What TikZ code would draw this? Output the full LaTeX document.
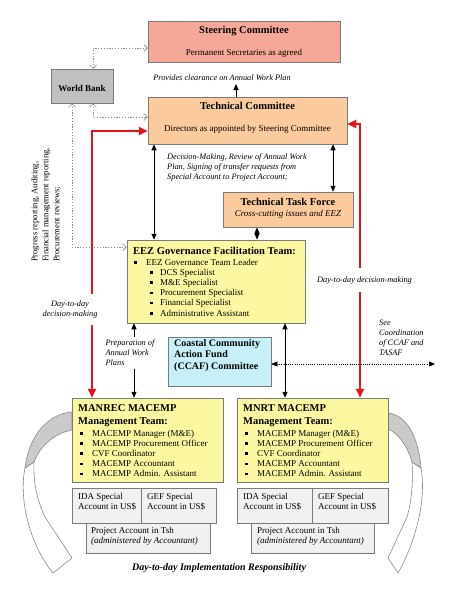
\documentclass[tikz,border=0pt]{standalone}
\usepackage{fontspec}
\setmainfont{Liberation Serif}
\usetikzlibrary{arrows.meta,calc}
\definecolor{salmon}{HTML}{F6A898}
\definecolor{peach}{HTML}{FBCB9E}
\definecolor{yel}{HTML}{FCF8A2}
\definecolor{cyanl}{HTML}{C6EFF7}
\definecolor{wbg}{HTML}{C0C0C0}
\definecolor{accg}{HTML}{F1F1F1}
\definecolor{boxline}{HTML}{7A7A7A}
\definecolor{redc}{HTML}{E8141A}
\definecolor{curvl}{HTML}{8A8A8A}
\definecolor{curvf}{HTML}{CACACA}
\definecolor{dotc}{HTML}{8C8C8C}
\newcommand{\sqb}{\raisebox{1.5pt}{\rule{2.6pt}{2.6pt}}}
\begin{document}
\begin{tikzpicture}[x=1pt,y=-1pt,
  box/.style={draw=boxline, line width=0.5pt, inner sep=0pt},
  tb/.style={inner sep=0pt, anchor=base},
  tl/.style={inner sep=0pt, anchor=base west},
  ttl/.style={font=\fontsize{10.5}{12}\selectfont\bfseries},
  nrm/.style={font=\fontsize{9}{10.2}\selectfont},
  itl/.style={font=\fontsize{8.3}{10}\selectfont\itshape},
  blk/.style={line width=0.9pt, {Triangle[length=6pt,width=5pt]}-{Triangle[length=6pt,width=5pt]}},
  blk1/.style={line width=0.9pt, -{Triangle[length=6pt,width=5pt]}},
  redl/.style={draw=redc, line width=2pt, {Triangle[length=9pt,width=8pt]}-{Triangle[length=9pt,width=8pt]}},
  dotg/.style={draw=dotc, line width=0.7pt, dash pattern=on 1.2pt off 1.6pt, {Straight Barb[length=3.5pt,width=7pt]}-{Straight Barb[length=3.5pt,width=7pt]}},
  dotk/.style={line width=0.7pt, dash pattern=on 1pt off 1.2pt, {Triangle[length=6pt,width=5pt]}-{Triangle[length=6pt,width=5pt]}},
  curv/.style={draw=curvl, line width=0.6pt}
]
\useasboundingbox (0,0) rectangle (467,605);

% curved arrows (behind)
\path[curv, fill=white] (25,468) .. controls (18,502) and (32,548) .. (53,573) -- (72,558) -- (45,517) .. controls (37,500) and (33,482) .. (34,462) -- cycle;
\path[curv, fill=curvf] (72,412) .. controls (45,414) and (28,440) .. (25,468) -- (34,462) .. controls (41,444) and (56,433) .. (72,430) -- cycle;
\path[curv, fill=white] (421,468) .. controls (427,502) and (414,545) .. (398,573) -- (388,558) -- (407,517) .. controls (412,500) and (413,482) .. (412,462) -- cycle;
\path[curv, fill=curvf] (388,413) .. controls (408,415) and (419,440) .. (421,468) -- (412,462) .. controls (407,445) and (398,433) .. (388,429) -- cycle;

% boxes
\node[box, fill=salmon, minimum width=192pt, minimum height=41pt] (sc) at (244,41.5) {};
\node[box, fill=wbg, minimum width=62pt, minimum height=34pt] (wb) at (82,86) {};
\node[box, fill=peach, minimum width=199pt, minimum height=47pt] (tc) at (247.5,120.5) {};
\node[box, fill=peach, minimum width=130pt, minimum height=35pt] (ttf) at (288,209.5) {};
\node[box, fill=yel, minimum width=178pt, minimum height=83pt] (eez) at (216,281.5) {};
\node[box, fill=cyanl, minimum width=103pt, minimum height=49pt] (ccaf) at (219.5,361.5) {};
\node[box, fill=yel, minimum width=151pt, minimum height=84pt] (manrec) at (147.5,440) {};
\node[box, fill=yel, minimum width=151pt, minimum height=84pt] (mnrt) at (312.5,440) {};
\node[box, fill=accg, minimum width=69pt, minimum height=35pt] (ida1) at (106.5,505.5) {};
\node[box, fill=accg, minimum width=75pt, minimum height=35pt] (gef1) at (178.5,505.5) {};
\node[box, fill=accg, minimum width=124pt, minimum height=30pt] (pa1) at (148,538) {};
\node[box, fill=accg, minimum width=75pt, minimum height=35pt] (ida2) at (274.5,505.5) {};
\node[box, fill=accg, minimum width=76pt, minimum height=35pt] (gef2) at (350,505.5) {};
\node[box, fill=accg, minimum width=123pt, minimum height=30pt] (pa2) at (312.5,538) {};

% box texts
\node[tb, ttl] (sct) at (244,33.6) {Steering Committee};
\node[tb, nrm] (scs) at (244,55) {Permanent Secretaries as agreed};
\node[tb, font=\fontsize{9}{10}\selectfont\bfseries] (wbt) at (82,91) {World Bank};
\node[tb, ttl] (tct) at (247.5,109.6) {Technical Committee};
\node[tb, nrm] (tcs) at (247.5,131) {Directors as appointed by Steering Committee};
\node[tb, ttl] (ttft) at (288,205.5) {Technical Task Force};
\node[tb, font=\fontsize{9}{10}\selectfont\itshape] (ttfs) at (288,216) {Cross-cutting issues and EEZ};

\node[tl, ttl] (eezt) at (133,254.5) {EEZ Governance Facilitation Team:};
\node[tl, nrm] (eez0) at (134,265) {\sqb\hspace{9.4pt}EEZ Governance Team Leader};
\foreach \t [count=\i] in {DCS Specialist, M\&E Specialist, Procurement Specialist, Financial Specialist, Administrative Assistant}
  \node[tl, nrm] (eez\i) at (150,265+10.2*\i) {\sqb\hspace{7.4pt}\t};

\node[tl, font=\fontsize{10}{11.5}\selectfont\bfseries, align=left, anchor=north west] (ccaft) at (174,339) {Coastal Community\\Action Fund\\(CCAF) Committee};

\node[tl, ttl] (mant1) at (78,411.5) {MANREC MACEMP};
\node[tl, ttl] (mant2) at (78,424.5) {Management Team:};
\node[tl, ttl] (mnrt1) at (243,411.5) {MNRT MACEMP};
\node[tl, ttl] (mnrt2) at (243,424.5) {Management Team:};
\foreach \t [count=\i from 0] in {MACEMP Manager (M\&E), MACEMP Procurement Officer, CVF Coordinator, MACEMP Accountant, MACEMP Admin. Assistant}{
  \node[tl, nrm] (manb\i) at (80,436+10.2*\i) {\sqb\hspace{9.4pt}\t};
  \node[tl, nrm] (mnrb\i) at (245,436+10.2*\i) {\sqb\hspace{9.4pt}\t};
}

\node[tl, nrm, align=left, anchor=north west] (ida1t) at (78,493) {IDA Special\\Account in US\$};
\node[tl, nrm, align=left, anchor=north west] (gef1t) at (147,493) {GEF Special\\Account in US\$};
\node[tl, nrm, align=left, anchor=north west] (pa1t) at (91,527) {Project Account in Tsh\\\textit{(administered by Accountant)}};
\node[tl, nrm, align=left, anchor=north west] (ida2t) at (243,493) {IDA Special\\Account in US\$};
\node[tl, nrm, align=left, anchor=north west] (gef2t) at (318,493) {GEF Special\\Account in US\$};
\node[tl, nrm, align=left, anchor=north west] (pa2t) at (257,527) {Project Account in Tsh\\\textit{(administered by Accountant)}};

\node[tb, font=\fontsize{10}{12}\selectfont\bfseries\itshape] (bot) at (219,570) {Day-to-day Implementation Responsibility};

% labels
\node[tb, itl] (prov) at (222,80) {Provides clearance on Annual Work Plan};
\coordinate (provend) at (236,84);
\node[tl, itl, align=left, anchor=north west] (decl) at (167,153.5) {Decision-Making, Review of Annual Work\\Plan, Signing of transfer requests from\\Special Account to Project Account;};
\node[font=\fontsize{8.6}{11}\selectfont, align=left, rotate=90, inner sep=0pt] (vert) at (46,205) {Progress reporting, Auditing,\\Financial management reporting,\\Procurement reviews;};
\node[itl, align=left, anchor=north west, inner sep=0pt] (see) at (379,320) {See\\Coordination\\of CCAF and\\TASAF};
\coordinate (seeend) at (435,364);

% connectors
\draw[dotg] ([xshift=11pt]wb.north) |- ([yshift=-6.5pt]sc.west);
\draw[dotg] ([xshift=11pt]wb.south) |- ([yshift=3.5pt]tc.west);
\draw[dotg] ([xshift=-10pt]wb.south) |- ([yshift=34.5pt]eez.west);

\draw[blk1] (tc.north -| provend) -- (provend);
\draw[blk] (tc.south -| 154,0) -- (eez.north -| 154,0);
\draw[blk] (tc.south -| 333,0) -- (ttf.north -| 333,0);
\draw[line width=0.9pt, {Triangle[length=6.5pt,width=5pt]}-{Triangle[length=6.5pt,width=5pt]}] (ttf.south -| 257,0) -- (eez.north -| 257,0);
\draw[blk] (eez.south -| 285,0) -- (mnrt.north -| 285,0);
\draw[blk] (eez.south -| 134,0) -- (manrec.north -| 134,0)
  node[pos=0.4, fill=white, inner ysep=3pt, inner xsep=0pt, anchor=center, itl, align=left, xshift=-4pt] (prep) {Preparation of\\Annual Work\\Plans};
\draw[dotk] ([yshift=-2.5pt]ccaf.east) -- (seeend);

\draw[redl] ([xshift=-55.5pt]manrec.north) |- ([yshift=-10.5pt]tc.west)
  node[pos=0.165, fill=white, inner ysep=7pt, inner xsep=0pt, itl, align=center, xshift=-22pt] (dl) {Day-to-day\\decision-making};
\draw[redl] ([xshift=47.5pt]mnrt.north) |- ([yshift=-3.5pt]tc.east)
  node[pos=0.215, fill=white, inner ysep=8pt, inner xsep=0pt, itl, xshift=4.5pt] (dr) {Day-to-day decision-making};
\end{tikzpicture}
\end{document}
